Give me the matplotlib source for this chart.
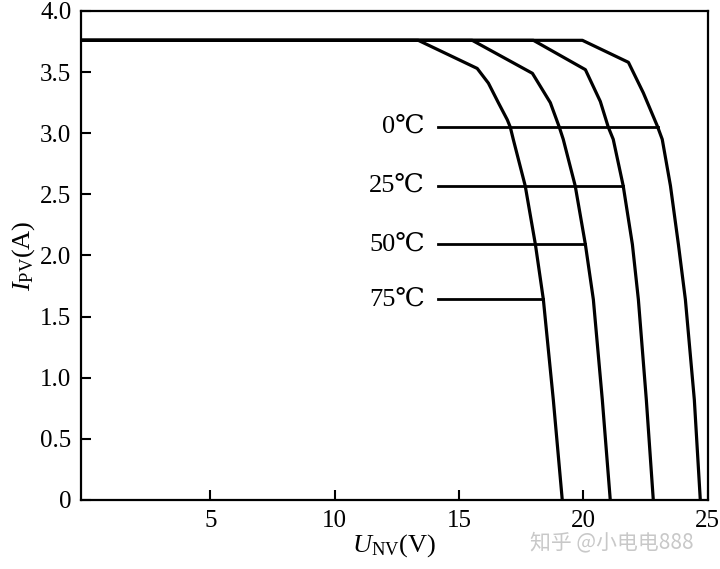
import numpy as np
import matplotlib.pyplot as plt

plt.rcParams['font.family'] = ['Liberation Serif', 'DejaVu Serif']
plt.rcParams['mathtext.fontset'] = 'custom'
plt.rcParams['mathtext.rm'] = 'Liberation Serif'
plt.rcParams['mathtext.it'] = 'Liberation Serif:italic'

# I-V curves (V, A)
temps = ["0", "25", "50", "75"]
u_0 = [-0.2, 19.96, 21.81, 22.41, 22.97, 23.17, 23.5, 23.82, 24.1, 24.46, 24.7]
i_0 = [3.76, 3.76, 3.58, 3.33, 3.06, 2.95, 2.57, 2.09, 1.64, 0.82, 0.0]
u_25 = [-0.2, 17.99, 20.08, 20.68, 21.0, 21.2, 21.6, 21.97, 22.21, 22.53, 22.81]
i_25 = [3.76, 3.76, 3.52, 3.26, 3.05, 2.95, 2.57, 2.09, 1.64, 0.82, 0.0]
u_50 = [-0.2, 15.53, 17.95, 18.67, 19.03, 19.19, 19.67, 20.08, 20.4, 20.76, 21.08]
i_50 = [3.76, 3.76, 3.49, 3.25, 3.05, 2.95, 2.57, 2.09, 1.64, 0.82, 0.0]
u_75 = [-0.2, 13.36, 15.73, 16.18, 16.58, 16.94, 17.06, 17.18, 17.66, 18.07,
        18.39, 18.79, 19.15]
i_75 = [3.76, 3.76, 3.53, 3.41, 3.25, 3.11, 3.05, 2.95, 2.57, 2.09,
        1.64, 0.82, 0.0]
label_i = [3.05, 2.57, 2.09, 1.64]
label_u0 = 14.17

curves = [(u_0, i_0), (u_25, i_25), (u_50, i_50), (u_75, i_75)]

fig = plt.figure(figsize=(7.2, 5.69), dpi=100)
ax = fig.add_axes([0.1125, 0.1213, 0.8705, 0.8594])

for (u, i), t, li in zip(curves, temps, label_i):
    ax.plot(u, i, color='black', lw=2.3, solid_joinstyle='round')
    u_end = np.interp(li, i[::-1], u[::-1])
    ax.plot([label_u0, u_end], [li, li], color='black', lw=2.0)
    ax.text(label_u0 - 0.55, li, t + "\u2103", ha='right', va='center',
            fontsize=19)

ax.set_xlim(-0.2, 25)
ax.set_ylim(0, 4.0)
ax.set_xticks([5, 10, 15, 20, 25])
ax.set_yticks(np.arange(0, 4.01, 0.5))
ax.set_yticklabels(["0", "0.5", "1.0", "1.5", "2.0", "2.5", "3.0", "3.5", "4.0"])
ax.tick_params(direction='in', length=7, width=1.5, labelsize=18, pad=7)
for s in ax.spines.values():
    s.set_linewidth(1.6)

ax.set_xlabel(r"$U_{\mathrm{NV}}$(V)", fontsize=19, labelpad=0)
ax.set_ylabel(r"$I_{\mathrm{PV}}$(A)", fontsize=19, labelpad=2)

fig.text(0.85, 0.047, "知乎 @小电电888", fontsize=15, color='#c8c8c8',
         ha='center', va='center', family=['Noto Sans CJK SC', 'DejaVu Sans'])

fig.savefig("out.png", dpi=100)
